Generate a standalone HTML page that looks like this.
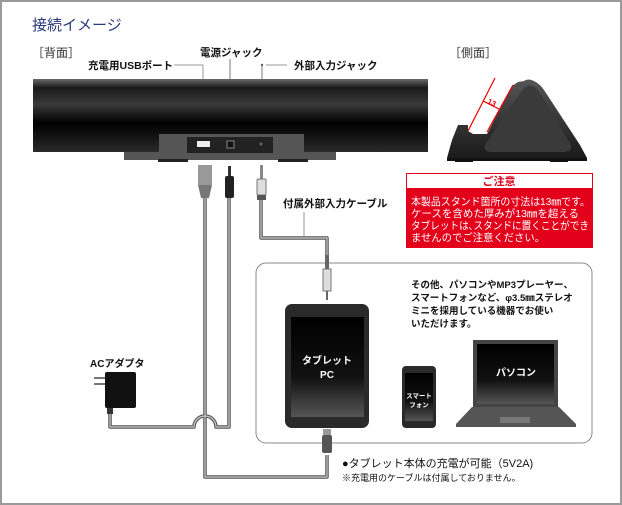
<!DOCTYPE html>
<html><head><meta charset="utf-8"><style>
html,body{margin:0;padding:0;background:#fff}
svg{display:block}
text{font-family:"Liberation Sans","Noto Sans CJK JP",sans-serif;font-weight:bold;fill:#111}
</style></head><body>
<svg width="622" height="505" viewBox="0 0 622 505" xmlns="http://www.w3.org/2000/svg">
<defs>
<linearGradient id="bar" x1="0" y1="0" x2="0" y2="1">
<stop offset="0" stop-color="#6a6a6a"/><stop offset="0.12" stop-color="#1a1a1a"/><stop offset="0.35" stop-color="#3a3a3a"/><stop offset="0.6" stop-color="#000"/><stop offset="1" stop-color="#2a2a2a"/></linearGradient>
<linearGradient id="scr" x1="0" y1="0" x2="0" y2="1"><stop offset="0" stop-color="#000"/><stop offset="0.6" stop-color="#111"/><stop offset="1" stop-color="#555"/></linearGradient>
<linearGradient id="stand" x1="0" y1="0" x2="0" y2="1"><stop offset="0" stop-color="#555"/><stop offset="1" stop-color="#1a1a1a"/></linearGradient>
</defs>
<rect x="1" y="1" width="620" height="503" fill="#fff" stroke="#9a9a9a" stroke-width="2"/>
<text x="32" y="30" font-size="15" style="fill:#2a3a7a;font-weight:normal">接続イメージ</text>
<text x="32" y="57" font-size="12" style="font-weight:normal;fill:#333">［背面］</text>
<text x="449" y="57" font-size="12" style="font-weight:normal;fill:#333">［側面］</text>

<!-- labels -->
<text x="88" y="69" font-size="10.5">充電用USBポート</text>
<line x1="174" y1="65" x2="203" y2="65" stroke="#999"/><line x1="203" y1="65" x2="203" y2="142" stroke="#999"/>
<text x="200" y="56" font-size="10.5">電源ジャック</text>
<line x1="230" y1="59" x2="230" y2="142" stroke="#777"/>
<text x="294" y="69" font-size="10.5">外部入力ジャック</text>
<line x1="266" y1="65" x2="287" y2="65" stroke="#999"/><circle cx="262" cy="65" r="1.2" fill="#555"/><line x1="262" y1="65" x2="262" y2="142" stroke="#777"/>

<!-- sound bar -->
<rect x="124" y="134" width="212" height="26" fill="#555"/>
<rect x="158" y="159" width="30" height="3" fill="#222"/><rect x="278" y="159" width="30" height="3" fill="#222"/>
<path d="M33 79 H428 V152 H304 V134 H159 V152 H33 Z" fill="url(#bar)"/>
<rect x="187" y="137" width="86" height="16" fill="#222"/>
<rect x="197" y="141" width="13" height="6" fill="#eee"/>
<rect x="227" y="141" width="7" height="7" fill="#111" stroke="#888"/>
<circle cx="261" cy="144" r="1.5" fill="#666"/>

<!-- connectors -->
<rect x="198" y="165" width="14" height="20" fill="#999"/><path d="M198 185 H212 L209 198 H201 Z" fill="#777"/>
<rect x="228" y="166" width="3" height="10" fill="#333"/><rect x="225" y="176" width="9" height="22" rx="2" fill="#222"/>
<rect x="260" y="165" width="3" height="14" fill="#888"/><rect x="257" y="179" width="9" height="16" rx="1" fill="#ddd" stroke="#777"/><rect x="257" y="195" width="9" height="5" fill="#555"/>

<!-- wires -->
<g fill="none" stroke="#555" stroke-width="3.5" stroke-linejoin="round">
<path d="M205 198 V477 H327 V455"/>
<path d="M229 198 V427 H216 A11 11 0 0 0 194 427 H110 V412"/>
<path d="M261 200 V238 H327 V258"/>
</g>
<g fill="none" stroke="#ccc" stroke-width="1.2">
<path d="M205 198 V477 H327 V455"/>
<path d="M229 198 V427 H216 A11 11 0 0 0 194 427 H110 V412"/>
<path d="M261 200 V238 H327 V258"/>
</g>
<text x="283" y="207" font-size="10.5">付属外部入力ケーブル</text>
<line x1="304" y1="212" x2="304" y2="238" stroke="#999"/>

<!-- side stand -->
<path d="M447 158 L452 140 L458 125 H468 V131 L473 134 H487 L512 86 L518 82 L524 81 Q528 78 534 81 Q540 84 544 90 L580 145 L587 158 Z" fill="url(#stand)"/>
<path d="M485 145 Q483 152 492 152 H563 Q574 152 570 143 L540 93 Q530 78 520 93 Z" fill="#3a3a3a"/>
<rect x="447" y="158" width="140" height="3" fill="#111"/>
<rect x="455" y="160" width="18" height="2" fill="#111"/><rect x="550" y="160" width="18" height="2" fill="#111"/>
<g stroke="#e00" stroke-width="1.2" fill="none">
<line x1="495" y1="78" x2="468" y2="131"/><line x1="513" y1="85" x2="487" y2="132"/>
<line x1="483" y1="101" x2="499" y2="109"/></g>
<text x="487" y="103" font-size="7.5" style="fill:#e00" transform="rotate(25 487 103)">13</text>

<!-- caution box -->
<rect x="406" y="173" width="187" height="75" fill="#e3001b"/>
<rect x="407" y="174" width="185" height="14" fill="#fff"/>
<text x="499" y="185" font-size="11" text-anchor="middle" style="fill:#e3001b">ご注意</text>
<text x="411" y="205" font-size="10.5" textLength="179" lengthAdjust="spacingAndGlyphs" style="fill:#fff;font-weight:normal">本製品スタンド箇所の寸法は13㎜です。</text>
<text x="411" y="217" font-size="10.5" textLength="168" lengthAdjust="spacingAndGlyphs" style="fill:#fff;font-weight:normal">ケースを含めた厚みが13㎜を超える</text>
<text x="411" y="229" font-size="10.5" textLength="178" lengthAdjust="spacingAndGlyphs" style="fill:#fff;font-weight:normal">タブレットは､スタンドに置くことができ</text>
<text x="411" y="241" font-size="10.5" textLength="134" lengthAdjust="spacingAndGlyphs" style="fill:#fff;font-weight:normal">ませんのでご注意ください。</text>

<!-- device box -->
<rect x="256" y="263" width="336" height="180" rx="10" fill="none" stroke="#888" stroke-width="1"/>
<rect x="325" y="255" width="4" height="14" fill="#666"/><rect x="323" y="269" width="8" height="22" fill="#ddd" stroke="#777"/><rect x="326" y="291" width="2" height="9" fill="#666"/>
<text x="411" y="288" font-size="9.5">その他、パソコンやMP3プレーヤー、</text>
<text x="411" y="301" font-size="9.5">スマートフォンなど、φ3.5㎜ステレオ</text>
<text x="411" y="314" font-size="9.5">ミニを採用している機器でお使い</text>
<text x="411" y="327" font-size="9.5">いただけます。</text>

<rect x="285" y="304" width="84" height="124" rx="7" fill="#2a2a2a"/>
<rect x="291" y="317" width="73" height="100" fill="url(#scr)"/>
<text x="327" y="364" font-size="10" text-anchor="middle" style="fill:#fff">タブレット</text>
<text x="327" y="378" font-size="10" text-anchor="middle" style="fill:#fff">PC</text>
<rect x="323" y="429" width="8" height="6" fill="#999"/><rect x="322" y="435" width="10" height="18" rx="2" fill="#555"/>

<rect x="402" y="366" width="34" height="62" rx="4" fill="#2a2a2a"/>
<rect x="405" y="373" width="28" height="48" fill="url(#scr)"/>
<text x="419" y="398" font-size="6.5" text-anchor="middle" style="fill:#fff">スマート</text>
<text x="419" y="407" font-size="6.5" text-anchor="middle" style="fill:#fff">フォン</text>

<rect x="473" y="340" width="85" height="67" fill="#444"/>
<rect x="477" y="344" width="77" height="60" fill="url(#scr)"/>
<text x="516" y="376" font-size="10" text-anchor="middle" style="fill:#fff">パソコン</text>
<path d="M472 407 H559 L576 424 V427 H456 V424 Z" fill="#555"/>
<rect x="500" y="417" width="30" height="6" fill="#777"/>

<!-- AC adapter -->
<text x="90" y="367" font-size="10">ACアダプタ</text>
<rect x="94" y="377" width="12" height="2" fill="#777"/><rect x="94" y="383" width="12" height="2" fill="#777"/>
<rect x="105" y="372" width="31" height="36" rx="2" fill="#111"/>
<rect x="107" y="408" width="6" height="6" fill="#333"/>

<text x="342" y="467" font-size="11" style="font-weight:normal">●タブレット本体の充電が可能（5V2A)</text>
<text x="342" y="481" font-size="9" style="font-weight:normal">※充電用のケーブルは付属しておりません。</text>
</svg>
</body></html>
